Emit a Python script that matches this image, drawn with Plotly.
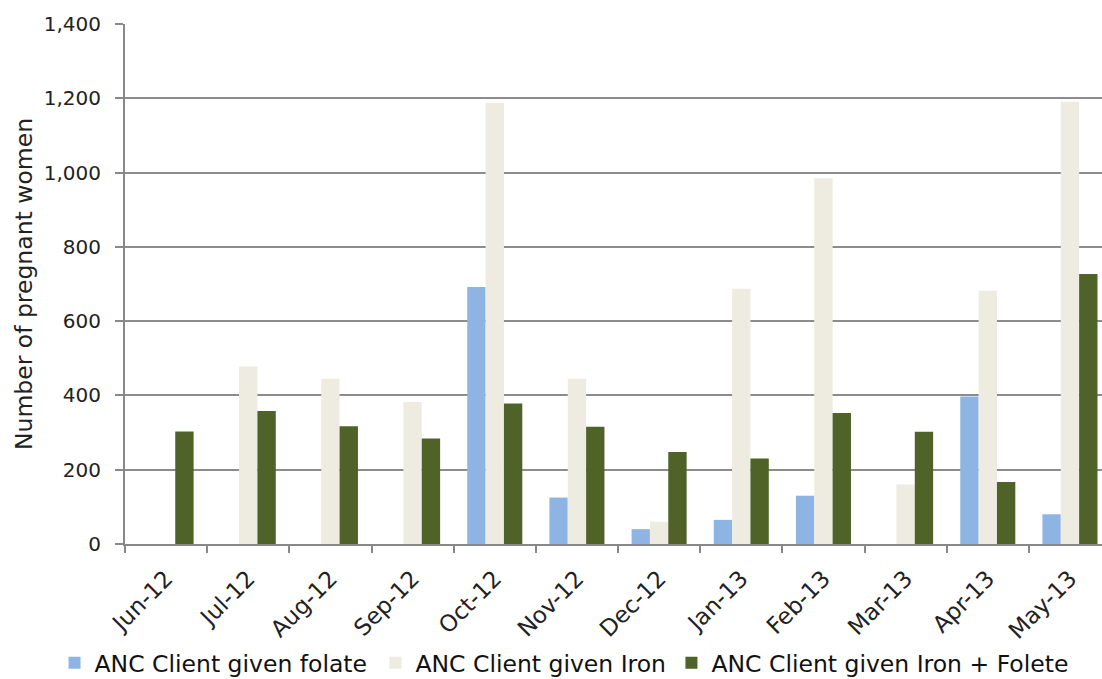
import plotly.graph_objects as go

months = ["Jun-12", "Jul-12", "Aug-12", "Sep-12", "Oct-12", "Nov-12",
          "Dec-12", "Jan-13", "Feb-13", "Mar-13", "Apr-13", "May-13"]
folate = [0, 0, 0, 0, 692, 125, 40, 65, 130, 0, 397, 80]
iron = [0, 478, 445, 382, 1187, 445, 60, 687, 985, 160, 682, 1191]
iron_folate = [303, 358, 317, 284, 378, 316, 248, 230, 353, 302, 167, 727]

names = ["ANC Client given folate", "ANC Client given Iron", "ANC Client given Iron + Folete"]
colors = ["#8EB4E3", "#EEECE1", "#4F6228"]
legend_ids = ["legend", "legend2", "legend3"]
legend_x = [0.0495, 0.3407, 0.6093]

font_family = "'DejaVu Sans', sans-serif"

fig = go.Figure()
for name, vals, col, lid in zip(names, [folate, iron, iron_folate], colors, legend_ids):
    fig.add_trace(go.Bar(x=months, y=vals, name=name, marker_color=col,
                         marker_line_width=0, legend=lid))

legend_common = dict(orientation="h", xref="container", xanchor="left",
                     yref="container", y=0.056, yanchor="top",
                     font=dict(size=23.5, color="#111111"), itemwidth=30,
                     bgcolor="rgba(0,0,0,0)")

fig.update_layout(
    width=1102, height=679,
    margin=dict(l=125, r=0, t=24, b=135),
    paper_bgcolor="white", plot_bgcolor="white",
    barmode="group", bargap=0.33, bargroupgap=0,
    font=dict(family=font_family, color="#222222", size=20),
    legend=dict(x=legend_x[0], **legend_common),
    legend2=dict(x=legend_x[1], **legend_common),
    legend3=dict(x=legend_x[2], **legend_common),
    showlegend=True,
)
fig.update_xaxes(
    type="category", range=[-0.5, 11.39], tickangle=-45, automargin=False,
    showline=True, linecolor="#888888", linewidth=2,
    ticks="outside", tickson="boundaries", ticklen=7, tickcolor="#888888", tickwidth=2,
    ticklabelstandoff=10,
    tickfont=dict(size=23, color="#222222"), showgrid=False,
)
fig.update_yaxes(
    range=[0, 1400], dtick=200, tickformat=",", automargin=False,
    showline=True, linecolor="#888888", linewidth=2,
    ticks="outside", ticklen=8, tickcolor="#888888", tickwidth=2,
    ticklabelstandoff=10,
    showgrid=True, gridcolor="#8c8c8c", gridwidth=2,
    tickfont=dict(size=20, color="#222222"),
    title=dict(text="Number of pregnant women", font=dict(size=23.5, color="#222222"), standoff=5),
    zeroline=False,
)

fig.write_html("out.html")
